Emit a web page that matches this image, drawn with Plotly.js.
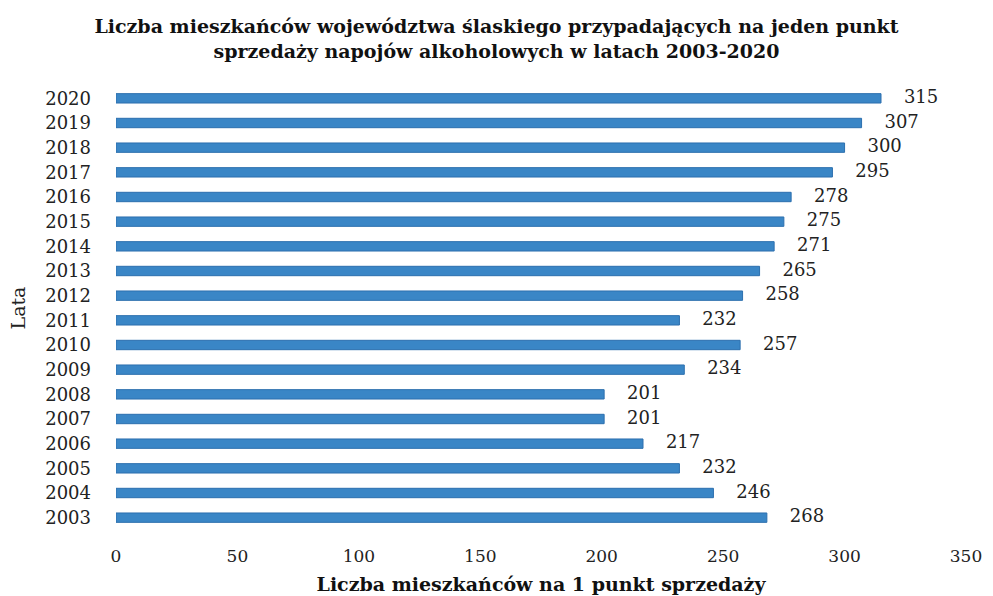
<!DOCTYPE html>
<html>
<head>
<meta charset="utf-8">
<script src="https://cdn.plot.ly/plotly-3.0.1.min.js"></script>
<style>html,body{margin:0;padding:0;background:#fff;}#chart{width:993px;height:596px;}</style>
</head>
<body>
<div id="chart"></div>
<script>
const years = ["2003","2004","2005","2006","2007","2008","2009","2010","2011","2012","2013","2014","2015","2016","2017","2018","2019","2020"];
const values = [268,246,232,217,201,201,234,257,232,258,265,271,275,278,295,300,307,315];
const xTicks = [0,50,100,150,200,250,300,350];
const titleText = "Liczba mieszkańców województwa ślaskiego przypadających na jeden punkt<br>sprzedaży napojów alkoholowych w latach 2003-2020";
const xTitle = "Liczba mieszkańców na 1 punkt sprzedaży";
const yTitle = "Lata";

const serif = "DejaVu Serif, Liberation Serif, serif";

const bars = {
  type: "bar",
  orientation: "h",
  x: values,
  y: years,
  width: 0.38,
  marker: {color: "#3a86c6", line: {color: "#2c6fae", width: 1}},
  hoverinfo: "skip"
};

const labels = {
  type: "scatter",
  mode: "text",
  x: values,
  y: years,
  text: values.map(v => "    " + v),
  textposition: "middle right",
  cliponaxis: false,
  textfont: {family: serif, size: 18, color: "#222"},
  hoverinfo: "skip"
};

const layout = {
  width: 993, height: 596,
  paper_bgcolor: "#fff", plot_bgcolor: "#fff",
  margin: {l: 116, r: 27, t: 86, b: 66},
  showlegend: false,
  title: {
    text: titleText,
    x: 0.5, xanchor: "center", y: 1 - 33/596, yanchor: "middle",
    font: {family: serif, size: 19, color: "#111", weight: "bold"}
  },
  xaxis: {
    range: [0, 350],
    tickvals: xTicks,
    ticktext: xTicks.map(String),
    showgrid: false, zeroline: false, showline: false,
    ticks: "", ticklabelstandoff: 14,
    tickfont: {family: serif, size: 17, color: "#222"},
    title: {text: xTitle, font: {family: serif, size: 19, color: "#111", weight: "bold"}, standoff: 12}
  },
  yaxis: {
    type: "category",
    categoryorder: "array", categoryarray: years,
    range: [-0.5, 17.5],
    showgrid: false, zeroline: false, showline: false,
    ticks: "", ticklabelstandoff: 24,
    tickfont: {family: serif, size: 18, color: "#222"},
    title: {text: yTitle, font: {family: serif, size: 19, color: "#222"}, standoff: 14}
  }
};

Plotly.newPlot("chart", [bars, labels], layout, {displayModeBar: false, staticPlot: true});
</script>
</body>
</html>
